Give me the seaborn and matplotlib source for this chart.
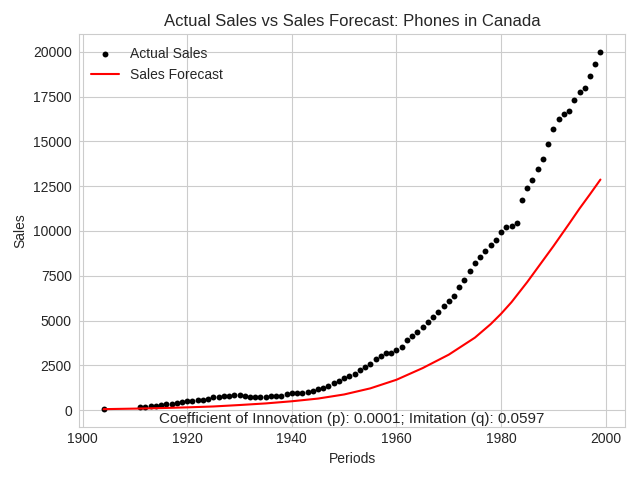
import numpy as np
import pandas as pd
import matplotlib
matplotlib.use("Agg")
import matplotlib.pyplot as plt
import seaborn as sns

# actual yearly sales
years = [1904] + list(range(1911, 2000))
sales = [50,
         170, 190, 225, 260, 300, 335, 370, 410, 460, 500,
         520, 545, 570, 650, 720, 760, 785, 820, 860, 850,
         800, 750, 745, 745, 745, 770, 800, 820, 880, 935,
         965, 975, 1030, 1070, 1160, 1250, 1350, 1510, 1630, 1775,
         1900, 2040, 2240, 2410, 2600, 2850, 3000, 3180, 3170, 3350,
         3530, 3900, 4150, 4370, 4630, 4910, 5190, 5490, 5810, 6090,
         6370, 6870, 7280, 7790, 8240, 8570, 8910, 9230, 9510, 9920,
         10230, 10290, 10420, 11750, 12420, 12870, 13480, 14040, 14880, 15670,
         16230, 16500, 16680, 17290, 17740, 17960, 18640, 19310, 19990]

# forecast curve
fc_years = [1904, 1910, 1915, 1920, 1925, 1930, 1935, 1940, 1945, 1950,
            1955, 1960, 1965, 1970, 1972, 1975, 1978, 1980, 1982, 1985,
            1988, 1990, 1993, 1995, 1997, 1999]
fc_sales = [60, 90, 120, 160, 210, 290, 380, 500, 650, 880,
            1220, 1700, 2350, 3100, 3480, 4050, 4800, 5380, 6030, 7150,
            8350, 9150, 10400, 11250, 12050, 12870]

p_coef = 0.0001
q_coef = 0.0597

df = pd.DataFrame({"Year": years, "Sales": sales})
fc = pd.DataFrame({"Year": fc_years, "Sales": fc_sales})

sns.set_style("whitegrid")
plt.rcParams["font.family"] = ["Liberation Sans", "DejaVu Sans"]
plt.rcParams["xtick.major.size"] = 0
plt.rcParams["ytick.major.size"] = 0
plt.rcParams["xtick.major.pad"] = 3.5
plt.rcParams["ytick.major.pad"] = 5

fig, ax = plt.subplots(figsize=(6.4, 4.8), dpi=100)

sns.scatterplot(data=df, x="Year", y="Sales", color="black", s=18,
                linewidth=0, label="Actual Sales", ax=ax)
sns.lineplot(data=fc, x="Year", y="Sales", color="red", linewidth=1.5,
             label="Sales Forecast", ax=ax)

ax.set_title("Actual Sales vs Sales Forecast: Phones in Canada", fontsize=12)
ax.set_xlabel("Periods")
ax.set_ylabel("Sales")
ax.legend(loc="upper left", frameon=False)

ax.text(0.5, 0.003,
        f"Coefficient of Innovation (p): {p_coef}; Imitation (q): {q_coef}",
        transform=ax.transAxes, ha="center", va="bottom", fontsize=11)

plt.subplots_adjust(left=0.123, right=0.977, top=0.929, bottom=0.11)
plt.savefig("out.png")
